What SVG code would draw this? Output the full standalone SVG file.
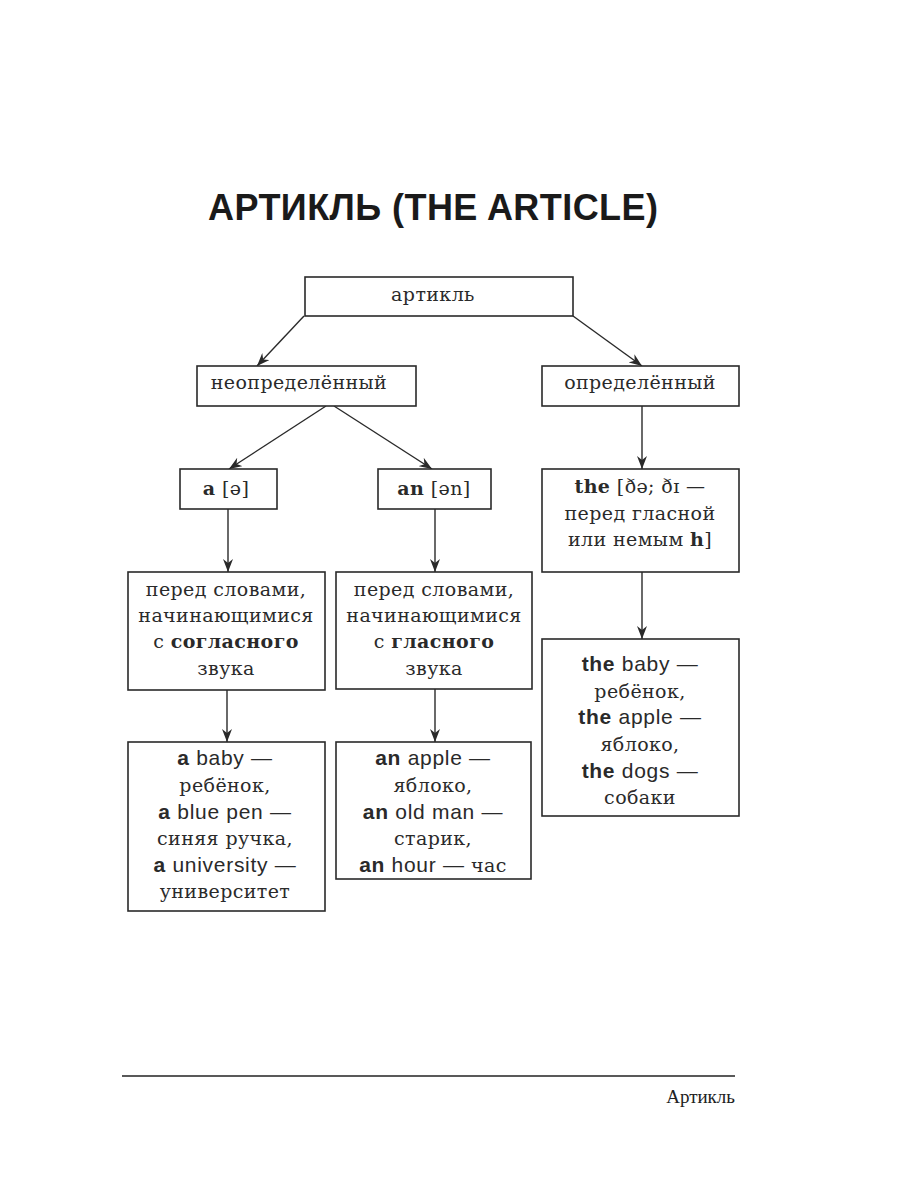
<svg xmlns="http://www.w3.org/2000/svg" width="900" height="1200" viewBox="0 0 900 1200">
<style>
.box{fill:#fff;stroke:#2a2a2a;stroke-width:1.6}
.edge{stroke:#2a2a2a;stroke-width:1.4;fill:none}
.t{font-family:"DejaVu Serif","Liberation Serif",serif;font-size:19px;fill:#2a2a2a;text-anchor:middle;letter-spacing:0.4px}
.b{font-weight:bold}
.s{font-family:"Liberation Sans","Arial",sans-serif;font-size:21px;letter-spacing:0.7px}
.title{font-family:"Liberation Sans","Arial",sans-serif;font-size:36px;font-weight:bold;fill:#1a1a1a}
.foot{font-family:"Liberation Serif","Times New Roman",serif;font-size:19px;fill:#222;text-anchor:end}
</style>
<defs>
<marker id="arr" markerUnits="userSpaceOnUse" viewBox="0 0 13 10" refX="13" refY="5" markerWidth="13" markerHeight="10" orient="auto">
<path d="M0,0 L13,5 L0,10 L4,5 z" fill="#2a2a2a"/>
</marker>
</defs>
<rect width="900" height="1200" fill="#fff"/>
<text class="title" x="208" y="220" textLength="450">АРТИКЛЬ (THE ARTICLE)</text>

<g id="connectors">
<line class="edge" x1="304" y1="316" x2="257" y2="366" marker-end="url(#arr)"/>
<line class="edge" x1="573" y1="316" x2="642" y2="366" marker-end="url(#arr)"/>
<line class="edge" x1="326" y1="406" x2="229" y2="469" marker-end="url(#arr)"/>
<line class="edge" x1="334" y1="406" x2="432" y2="469" marker-end="url(#arr)"/>
<line class="edge" x1="642" y1="406" x2="642" y2="469" marker-end="url(#arr)"/>
<line class="edge" x1="228" y1="509" x2="228" y2="572" marker-end="url(#arr)"/>
<line class="edge" x1="435" y1="509" x2="435" y2="572" marker-end="url(#arr)"/>
<line class="edge" x1="642" y1="572" x2="642" y2="639" marker-end="url(#arr)"/>
<line class="edge" x1="227" y1="690" x2="227" y2="742" marker-end="url(#arr)"/>
<line class="edge" x1="435" y1="689" x2="435" y2="742" marker-end="url(#arr)"/>
</g>

<g id="n_root">
<rect class="box" x="305" y="277" width="268" height="39"/>
<text class="t" x="433" y="301">артикль</text>
</g>
<g id="n_indef">
<rect class="box" x="197" y="366" width="219" height="40"/>
<text class="t" x="299" y="389">неопределённый</text>
</g>
<g id="n_def">
<rect class="box" x="542" y="366" width="197" height="40"/>
<text class="t" x="640" y="389">определённый</text>
</g>
<g id="n_a">
<rect class="box" x="180" y="469" width="97" height="40"/>
<text class="t" x="226" y="495"><tspan class="b">a</tspan> [ə]</text>
</g>
<g id="n_an">
<rect class="box" x="378" y="469" width="113" height="40"/>
<text class="t" x="434" y="495"><tspan class="b">an</tspan> [ən]</text>
</g>
<g id="n_the">
<rect class="box" x="542" y="469" width="197" height="103"/>
<text class="t" x="640" y="493"><tspan class="b">the</tspan> [ðə; ðɪ —</text>
<text class="t" x="640" y="519.5">перед гласной</text>
<text class="t" x="640" y="546">или немым <tspan class="b">h</tspan>]</text>
</g>
<g id="n_a_desc">
<rect class="box" x="128" y="572" width="197" height="118"/>
<text class="t" x="226" y="596">перед словами,</text>
<text class="t" x="226" y="622">начинающимися</text>
<text class="t" x="226" y="648">с <tspan class="b">согласного</tspan></text>
<text class="t" x="226" y="675">звука</text>
</g>
<g id="n_an_desc">
<rect class="box" x="336" y="572" width="196" height="117"/>
<text class="t" x="434" y="596">перед словами,</text>
<text class="t" x="434" y="622">начинающимися</text>
<text class="t" x="434" y="648">с <tspan class="b">гласного</tspan></text>
<text class="t" x="434" y="675">звука</text>
</g>
<g id="n_the_ex">
<rect class="box" x="542" y="639" width="197" height="177"/>
<text class="t" x="640" y="671"><tspan class="s b">the</tspan><tspan class="s"> baby —</tspan></text>
<text class="t" x="640" y="698">ребёнок,</text>
<text class="t" x="640" y="724"><tspan class="s b">the</tspan><tspan class="s"> apple —</tspan></text>
<text class="t" x="640" y="751">яблоко,</text>
<text class="t" x="640" y="778"><tspan class="s b">the</tspan><tspan class="s"> dogs —</tspan></text>
<text class="t" x="640" y="804">собаки</text>
</g>
<g id="n_a_ex">
<rect class="box" x="128" y="742" width="197" height="169"/>
<text class="t" x="225" y="765"><tspan class="s b">a</tspan><tspan class="s"> baby —</tspan></text>
<text class="t" x="225" y="792">ребёнок,</text>
<text class="t" x="225" y="819"><tspan class="s b">a</tspan><tspan class="s"> blue pen —</tspan></text>
<text class="t" x="225" y="845">синяя ручка,</text>
<text class="t" x="225" y="872"><tspan class="s b">a</tspan><tspan class="s"> university —</tspan></text>
<text class="t" x="225" y="898">университет</text>
</g>
<g id="n_an_ex">
<rect class="box" x="336" y="742" width="195" height="137"/>
<text class="t" x="433" y="765"><tspan class="s b">an</tspan><tspan class="s"> apple —</tspan></text>
<text class="t" x="433" y="792">яблоко,</text>
<text class="t" x="433" y="819"><tspan class="s b">an</tspan><tspan class="s"> old man —</tspan></text>
<text class="t" x="433" y="845">старик,</text>
<text class="t" x="433" y="872"><tspan class="s b">an</tspan><tspan class="s"> hour —</tspan> час</text>
</g>

<line x1="122" y1="1076" x2="735" y2="1076" stroke="#222" stroke-width="1.3"/>
<text class="foot" x="735" y="1103">Артикль</text>
</svg>
